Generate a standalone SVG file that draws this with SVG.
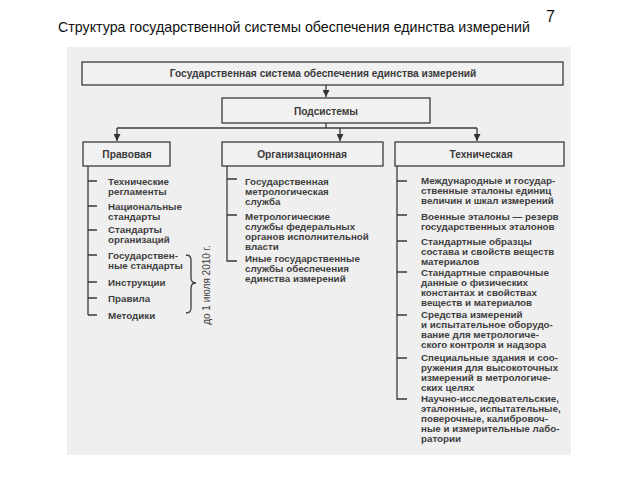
<svg xmlns="http://www.w3.org/2000/svg" width="640" height="480" viewBox="0 0 640 480">
<defs>
<marker id="arr" viewBox="0 0 8 8" refX="8" refY="4" markerWidth="7" markerHeight="7" markerUnits="userSpaceOnUse" orient="auto"><path d="M0,0 L8,4 L0,8 Z" fill="#333"/></marker>
</defs>
<style>
.box{fill:#f1f1f1;stroke:#3a3a3a;stroke-width:1.3}
.lbl{font-family:"Liberation Sans",Arial,sans-serif;font-size:10.2px;font-weight:bold;fill:#3a3a3a;text-anchor:middle}
.it{font-family:"Liberation Sans",Arial,sans-serif;font-size:9.8px;font-weight:bold;fill:#3f3f3f}
.ln{stroke:#3a3a3a;stroke-width:1.3;fill:none}
</style>
<rect width="640" height="480" fill="#fff"/>
<text x="58" y="32" font-family="'Liberation Sans',Arial,sans-serif" font-size="14.5" fill="#111" textLength="472" lengthAdjust="spacingAndGlyphs">Структура государственной системы обеспечения единства измерений</text>
<text x="546" y="22" font-family="'Liberation Sans',Arial,sans-serif" font-size="16" fill="#111">7</text>
<rect x="67" y="47" width="504" height="408" fill="#efefef"/>

<g id="connectors">
<line class="ln" x1="326" y1="85" x2="326" y2="97" marker-end="url(#arr)"/>
<polyline class="ln" points="326,123 326,128"/>
<polyline class="ln" points="117,128 477,128"/>
<line class="ln" x1="117" y1="128" x2="117" y2="141" marker-end="url(#arr)"/>
<line class="ln" x1="340" y1="128" x2="340" y2="141" marker-end="url(#arr)"/>
<line class="ln" x1="477" y1="128" x2="477" y2="141" marker-end="url(#arr)"/>
<path class="ln" d="M88,166 V315 M88,181 H97 M88,206 H97 M88,230 H97 M88,255 H97 M88,282 H97 M88,298 H97 M88,315 H97"/>
<path class="ln" d="M227,166 V261 H237 M227,179 H237 M227,215 H237"/>
<path class="ln" d="M397,166 V399 H407 M397,181 H407 M397,215 H407 M397,241 H407 M397,272 H407 M397,315 H407 M397,358 H407"/>
<path class="ln" d="M186,255 Q191,255 191,260 V278 Q191,283 196,283 Q191,283 191,288 V308 Q191,313 186,313" stroke-width="1.1"/>
</g>

<g id="n-gsei"><rect class="box" x="82" y="62" width="481" height="23"/><text class="lbl" x="323" y="77">Государственная система обеспечения единства измерений</text></g>
<g id="n-sub"><rect class="box" x="222" y="98" width="208" height="25"/><text class="lbl" x="326" y="114.5">Подсистемы</text></g>
<g id="n-prav"><rect class="box" x="83" y="142" width="87" height="24"/><text class="lbl" x="127" y="158">Правовая</text></g>
<g id="n-org"><rect class="box" x="222" y="142" width="161" height="24"/><text class="lbl" x="302" y="158">Организационная</text></g>
<g id="n-tech"><rect class="box" x="395" y="142" width="169" height="24"/><text class="lbl" x="481" y="158">Техническая</text></g>

<g id="list-prav">
<text class="it" x="108" y="185">Технические</text>
<text class="it" x="108" y="195">регламенты</text>
<text class="it" x="108" y="210">Национальные</text>
<text class="it" x="108" y="220">стандарты</text>
<text class="it" x="108" y="233">Стандарты</text>
<text class="it" x="108" y="243">организаций</text>
<text class="it" x="108" y="259">Государствен-</text>
<text class="it" x="108" y="269">ные стандарты</text>
<text class="it" x="108" y="285.5">Инструкции</text>
<text class="it" x="108" y="301.5">Правила</text>
<text class="it" x="108" y="318.5">Методики</text>
<text transform="translate(210,285) rotate(-90)" text-anchor="middle" font-family="'Liberation Sans',Arial,sans-serif" font-size="10" fill="#3f3f3f">до 1 июля 2010 г.</text>
</g>

<g id="list-org">
<text class="it" x="245" y="185">Государственная</text>
<text class="it" x="245" y="195">метрологическая</text>
<text class="it" x="245" y="205">служба</text>
<text class="it" x="245" y="220">Метрологические</text>
<text class="it" x="245" y="230">службы федеральных</text>
<text class="it" x="245" y="240">органов исполнительной</text>
<text class="it" x="245" y="250">власти</text>
<text class="it" x="245" y="262">Иные государственные</text>
<text class="it" x="245" y="272">службы обеспечения</text>
<text class="it" x="245" y="282">единства измерений</text>
</g>

<g id="list-tech">
<text class="it" x="421" y="184">Международные и государ-</text>
<text class="it" x="421" y="194">ственные эталоны единиц</text>
<text class="it" x="421" y="204">величин и шкал измерений</text>
<text class="it" x="421" y="220">Военные эталоны — резерв</text>
<text class="it" x="421" y="230">государственных эталонов</text>
<text class="it" x="421" y="245">Стандартные образцы</text>
<text class="it" x="421" y="255">состава и свойств веществ</text>
<text class="it" x="421" y="265">материалов</text>
<text class="it" x="421" y="276">Стандартные справочные</text>
<text class="it" x="421" y="286">данные о физических</text>
<text class="it" x="421" y="296">константах и свойствах</text>
<text class="it" x="421" y="306">веществ и материалов</text>
<text class="it" x="421" y="318">Средства измерений</text>
<text class="it" x="421" y="328">и испытательное оборудо-</text>
<text class="it" x="421" y="338">вание для метрологиче-</text>
<text class="it" x="421" y="348">ского контроля и надзора</text>
<text class="it" x="421" y="361">Специальные здания и соо-</text>
<text class="it" x="421" y="371">ружения для высокоточных</text>
<text class="it" x="421" y="381">измерений в метрологиче-</text>
<text class="it" x="421" y="391">ских целях</text>
<text class="it" x="421" y="402">Научно-исследовательские,</text>
<text class="it" x="421" y="412">эталонные, испытательные,</text>
<text class="it" x="421" y="422">поверочные, калибровоч-</text>
<text class="it" x="421" y="432">ные и измерительные лабо-</text>
<text class="it" x="421" y="442">ратории</text>
</g>
</svg>
